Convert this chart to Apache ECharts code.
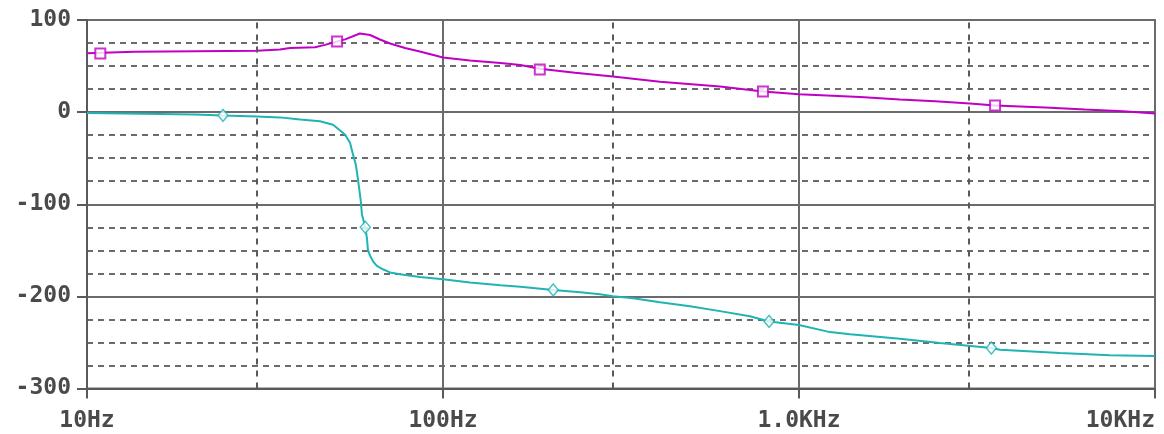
<!DOCTYPE html>
<html><head><meta charset="utf-8">
<script src="https://cdn.jsdelivr.net/npm/echarts@6/dist/echarts.min.js"></script>
<style>html,body{margin:0;padding:0;background:#fff}#c{width:1164px;height:434px}</style>
</head><body><div id="c"></div>
<script>
// Frequency (Hz) and value pairs
const magFreq = [10, 13.6, 30, 34.8, 37.2, 43.7, 46.6, 50.4, 53.1, 58.4, 62.4, 66.5, 71, 78.2, 86.1, 100, 119, 145, 165, 187, 235, 300, 407, 600, 792, 1000, 1484, 1921, 2411, 3020, 3554, 4913, 6358, 8128, 10000];
const magVal  = [64, 65.5, 66.5, 68, 69.5, 70.5, 73, 76.6, 79, 85.3, 83.7, 78.8, 74.5, 69.6, 65.8, 59.3, 56, 53.3, 51.2, 47, 42.7, 38.6, 33, 27.8, 22.3, 19.5, 16.3, 13.8, 11.9, 9.4, 7.3, 5.1, 2.9, 1.0, -1.4];
const phFreq = [10, 20.1, 24.1, 30, 34.8, 39.7, 45.1, 49.1, 51.4, 53.1, 54.8, 55.9, 56.9, 57.7, 58.2, 58.7, 59.2, 60.5, 61.2, 61.5, 62.4, 63.6, 65.2, 67.8, 71, 75.7, 86.1, 100, 119, 145, 165, 204, 243, 276, 300, 342, 407, 494, 600, 728, 824, 1000, 1222, 1391, 1921, 2489, 3470, 3671, 5411, 7476, 10000];
const phVal  = [-1, -2.5, -3.6, -4.8, -5.7, -8, -10, -13.8, -20, -24.6, -33.3, -46.3, -57, -73, -84, -95, -111, -125, -138, -149, -156, -162, -167, -170.6, -174, -176, -179, -181.4, -185, -188, -189.5, -193, -195.5, -197.6, -199.8, -202, -206.3, -210.6, -216, -221.5, -227.2, -231, -238.8, -241, -246, -250.6, -256, -258, -261.5, -263.8, -264.8];
const magMarkFreq = [10.9, 50.4, 187, 792, 3554];
const magMarkVal  = [63.6, 76.6, 46.3, 22.4, 7.3];
const phMarkFreq = [24.1, 60.5, 204, 824, 3470];
const phMarkVal  = [-3.6, -125, -193, -227.2, -256];
const xTickLabels = {10: '10Hz', 100: '100Hz', 1000: '1.0KHz', 10000: '10KHz'};
const xDashedLines = [30, 300, 3000];

const zip = (a, b) => a.map((v, i) => [v, b[i]]);
const MAG = '#c000c4', PH = '#1fb3b3', GRID = '#6b6b6b';
const font = {fontFamily: 'DejaVu Sans Mono', fontWeight: 'bold', fontSize: 23, color: '#4a4a4a'};

const chart = echarts.init(document.getElementById('c'), null, {renderer: 'canvas'});
chart.setOption({
  animation: false,
  grid: {left: 87, right: 9, top: 20, bottom: 45.5, show: true, borderColor: GRID, borderWidth: 2, backgroundColor: 'transparent'},
  xAxis: {
    type: 'log', logBase: 10, min: 10, max: 10000,
    axisLine: {show: true, onZero: false, lineStyle: {color: '#5a5a5a', width: 2}},
    axisTick: {show: true, inside: false, length: 10, lineStyle: {color: '#5a5a5a', width: 2}},
    splitLine: {show: true, lineStyle: {color: GRID, width: 2}},
    axisLabel: Object.assign({margin: 21, formatter: v => xTickLabels[Math.round(v)] || '', alignMaxLabel: 'right', showMinLabel: true, showMaxLabel: true}, font)
  },
  yAxis: {
    type: 'value', min: -300, max: 100, interval: 100,
    axisLine: {show: true, onZero: false, lineStyle: {color: '#5a5a5a', width: 2}},
    axisTick: {show: true, inside: false, length: 10, lineStyle: {color: '#5a5a5a', width: 2}},
    splitLine: {show: true, lineStyle: {color: GRID, width: 2}},
    minorTick: {show: false, splitNumber: 4},
    minorSplitLine: {show: true, lineStyle: {color: GRID, width: 2, type: [6, 5]}},
    axisLabel: Object.assign({margin: 16}, font)
  },
  series: [
    {type: 'line', data: zip(phFreq, phVal), showSymbol: false, smooth: false,
     lineStyle: {color: PH, width: 2}, z: 3,
     markLine: {silent: true, symbol: 'none', label: {show: false},
       lineStyle: {color: '#5a5a5a', width: 2, type: [6, 6]},
       data: xDashedLines.map(v => ({xAxis: v}))}},
    {type: 'line', data: zip(magFreq, magVal), showSymbol: false, smooth: false,
     lineStyle: {color: MAG, width: 2}, z: 3},
    {type: 'scatter', data: zip(magMarkFreq, magMarkVal), symbol: 'rect', symbolSize: 10, z: 4,
     itemStyle: {color: '#fff', borderColor: MAG, borderWidth: 2}},
    {type: 'scatter', data: zip(phMarkFreq, phMarkVal), symbol: 'diamond', symbolSize: [10, 12], z: 4,
     itemStyle: {color: '#fff', borderColor: PH, borderWidth: 1.5}}
  ]
});
</script></body></html>
